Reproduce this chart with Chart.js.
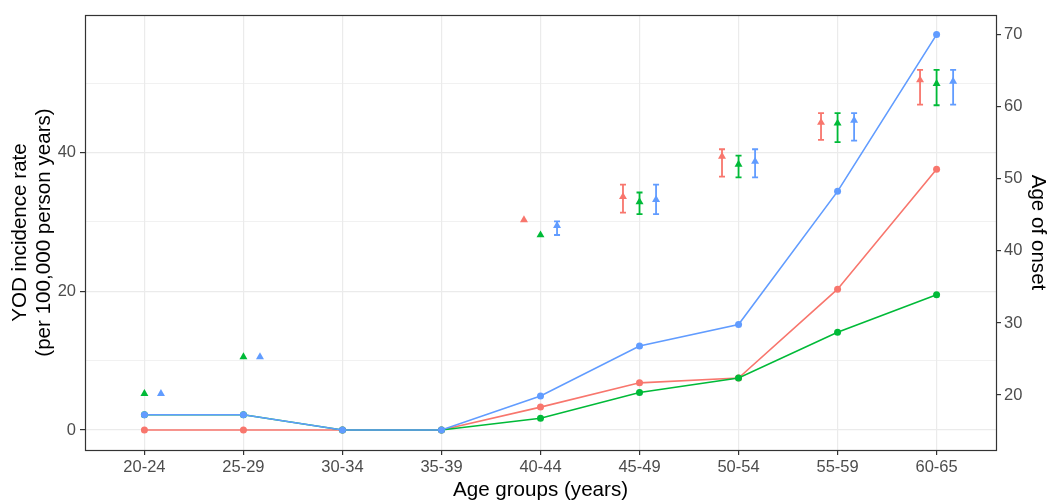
<!DOCTYPE html>
<html>
<head>
<meta charset="utf-8">
<script src="https://cdn.jsdelivr.net/npm/chart.js@4"></script>
<style>
  html, body { margin: 0; padding: 0; background: #fff; }
  #wrap { width: 1049px; height: 501px; }
</style>
</head>
<body>
<div id="wrap"><canvas id="yodChart" width="1049" height="501"></canvas></div>
<script>
// age groups on the x axis
const ageGroups = ['20-24', '25-29', '30-34', '35-39', '40-44', '45-49', '50-54', '55-59', '60-65'];

// YOD incidence rate (left axis), circles + lines
const incRed   = [0, 0, 0, 0, 3.3, 6.8, 7.5, 20.3, 37.6];
const incGreen = [2.2, 2.2, 0, 0, 1.7, 5.4, 7.5, 14.1, 19.5];
const incBlue  = [2.2, 2.2, 0, 0, 4.9, 12.1, 15.2, 34.4, 57.0];

// age of onset (right axis), triangles with error bars
const onsetRed   = [null, null, null, null, 44.3, 47.5, 53.1, 57.8, 63.7];
const onsetGreen = [20.2, 25.3, null, null, 42.2, 46.8, 52.0, 57.7, 63.2];
const onsetBlue  = [20.2, 25.3, null, null, 43.5, 47.1, 52.4, 58.1, 63.5];

const lowRed    = [null, null, null, null, null, 45.3, 50.3, 55.4, 60.3];
const highRed   = [null, null, null, null, null, 49.2, 54.1, 59.1, 65.1];
const lowGreen  = [null, null, null, null, null, 45.1, 50.2, 55.1, 60.2];
const highGreen = [null, null, null, null, null, 48.1, 53.2, 59.1, 65.1];
const lowBlue   = [null, null, null, null, 42.2, 45.1, 50.2, 55.3, 60.3];
const highBlue  = [null, null, null, null, 44.1, 49.2, 54.1, 59.1, 65.1];

const RED = '#F8766D', GREEN = '#00BA38', BLUE = '#619CFF';
const DODGE = 0.167;
const FONT = 'Arial, "Liberation Sans", sans-serif';
const TICK_SIZE = 16.5, TITLE_SIZE = 20.6;

function toPoints(values, shift) {
    return values.map((v, i) => ({ x: i + shift, y: v }));
}

function lineSet(label, values, color, order) {
    return {
        type: 'line',
        label: label,
        data: toPoints(values, 0),
        yAxisID: 'y',
        borderColor: color,
        backgroundColor: color,
        borderWidth: 1.6,
        pointRadius: 3.5,
        pointBorderWidth: 0,
        tension: 0,
        order: order
    };
}

function onsetSet(label, values, color, shift, low, high) {
    return {
        type: 'scatter',
        label: label,
        data: toPoints(values, shift),
        yAxisID: 'y2',
        backgroundColor: color,
        borderColor: color,
        pointStyle: 'triangle',
        pointRadius: 4.6,
        pointBorderWidth: 0,
        showLine: false,
        errLow: low,
        errHigh: high,
        order: 0
    };
}

// error bars for the age of onset, drawn through the chart's own scales
const errorBars = {
    id: 'errorBars',
    afterDatasetsDraw(chart) {
        const ctx = chart.ctx;
        const xs = chart.scales.x, ys = chart.scales.y2;
        chart.data.datasets.forEach(ds => {
            if (!ds.errLow) return;
            ctx.save();
            ctx.strokeStyle = ds.borderColor;
            ctx.lineWidth = 1.8;
            ds.data.forEach((p, i) => {
                if (ds.errLow[i] == null) return;
                const px = xs.getPixelForValue(p.x);
                const y1 = ys.getPixelForValue(ds.errLow[i]);
                const y2 = ys.getPixelForValue(ds.errHigh[i]);
                ctx.beginPath();
                ctx.moveTo(px, y1); ctx.lineTo(px, y2);
                ctx.moveTo(px - 3, y1); ctx.lineTo(px + 3, y1);
                ctx.moveTo(px - 3, y2); ctx.lineTo(px + 3, y2);
                ctx.stroke();
            });
            ctx.restore();
        });
    }
};

// panel border like theme_bw
const panelBorder = {
    id: 'panelBorder',
    afterDraw(chart) {
        const a = chart.chartArea, ctx = chart.ctx;
        ctx.save();
        ctx.strokeStyle = '#333333';
        ctx.lineWidth = 1.2;
        ctx.strokeRect(Math.round(a.left) + 0.5, Math.round(a.top) + 0.5,
            Math.round(a.right - a.left), Math.round(a.bottom - a.top));
        ctx.restore();
    }
};

const ctx = document.getElementById('yodChart').getContext('2d');

new Chart(ctx, {
    data: {
        datasets: [
            onsetSet('Onset red', onsetRed, RED, -DODGE, lowRed, highRed),
            onsetSet('Onset green', onsetGreen, GREEN, 0, lowGreen, highGreen),
            onsetSet('Onset blue', onsetBlue, BLUE, DODGE, lowBlue, highBlue),
            lineSet('Incidence blue', incBlue, BLUE, 1),
            lineSet('Incidence green', incGreen, GREEN, 2),
            lineSet('Incidence red', incRed, RED, 3)
        ]
    },
    options: {
        responsive: false,
        animation: false,
        layout: { padding: { top: 15, right: 0, left: 0, bottom: 0 } },
        plugins: {
            legend: { display: false },
            tooltip: { enabled: false }
        },
        scales: {
            x: {
                type: 'linear',
                min: -0.6,
                max: 8.6,
                afterBuildTicks: s => { s.ticks = ageGroups.map((g, i) => ({ value: i })); },
                afterFit: s => { s.height = 51; },
                ticks: {
                    callback: v => ageGroups[v],
                    color: '#4D4D4D',
                    font: { family: FONT, size: TICK_SIZE, lineHeight: 1 },
                    padding: 4,
                    maxRotation: 0,
                    autoSkip: false
                },
                grid: { color: '#EBEBEB', lineWidth: 1.2, tickColor: '#333333', tickLength: 5 },
                border: { display: false },
                title: {
                    display: true,
                    text: 'Age groups (years)',
                    color: '#000',
                    font: { family: FONT, size: TITLE_SIZE, lineHeight: 1.0 },
                    padding: { top: 0, bottom: 0 }
                }
            },
            y: {
                type: 'linear',
                position: 'left',
                min: -2.88,
                max: 59.82,
                afterBuildTicks: s => { s.ticks = [0, 10, 20, 30, 40, 50].map(v => ({ value: v })); },
                afterFit: s => { s.width = 85; },
                ticks: {
                    callback: v => (v % 20 === 0 ? String(v) : ''),
                    color: '#4D4D4D',
                    font: { family: FONT, size: TICK_SIZE },
                    padding: 4
                },
                grid: {
                    color: '#EBEBEB',
                    lineWidth: c => (c.tick && c.tick.value % 20 === 0 ? 1.2 : 0.7),
                    tickColor: c => (c.tick && c.tick.value % 20 === 0 ? '#333333' : 'rgba(0,0,0,0)'),
                    tickLength: 5
                },
                border: { display: false },
                title: {
                    display: true,
                    text: ['YOD incidence rate', '(per 100,000 person years)'],
                    color: '#000',
                    font: { family: FONT, size: TITLE_SIZE, lineHeight: 1.14 },
                    padding: { top: 9, bottom: 0 }
                }
            },
            y2: {
                type: 'linear',
                position: 'right',
                min: 12.38,
                max: 72.72,
                afterBuildTicks: s => { s.ticks = [20, 30, 40, 50, 60, 70].map(v => ({ value: v })); },
                afterFit: s => { s.width = 53; },
                ticks: {
                    color: '#4D4D4D',
                    font: { family: FONT, size: TICK_SIZE },
                    padding: 3
                },
                grid: { drawOnChartArea: false, tickColor: '#333333', tickLength: 5, lineWidth: 1.2 },
                border: { display: false },
                title: {
                    display: true,
                    text: 'Age of onset',
                    color: '#000',
                    font: { family: FONT, size: TITLE_SIZE, lineHeight: 1.1 },
                    padding: { top: 0, bottom: 0 }
                }
            }
        }
    },
    plugins: [errorBars, panelBorder]
});
</script>
</body>
</html>
